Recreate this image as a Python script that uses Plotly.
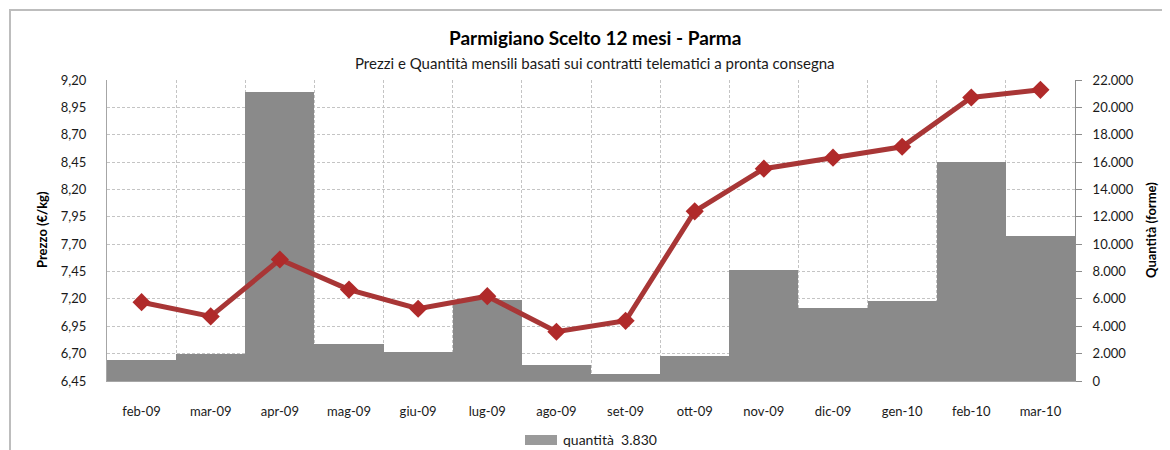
import plotly.graph_objects as go

months = ["feb-09", "mar-09", "apr-09", "mag-09", "giu-09", "lug-09", "ago-09",
          "set-09", "ott-09", "nov-09", "dic-09", "gen-10", "feb-10", "mar-10"]
quantita = [1500, 2000, 21100, 2700, 2150, 5900, 1150, 500, 1850, 8100, 5300, 5850, 16000, 10600]
prezzo = [7.17, 7.04, 7.56, 7.285, 7.11, 7.225, 6.90, 7.00, 8.00, 8.39, 8.49, 8.59, 9.04, 9.11]
legend_label = "quantità  3.830"

left_ticks = [6.45 + 0.25 * i for i in range(12)]
right_ticks = [2000 * i for i in range(12)]

FONT = "Lato"
TXT = "#1a1a1a"
BAR = "#8a8a8a"

# page body adds an 8px offset; positions below are in target screen pixels
OFF = 8
W, H = 1170 - OFF, 450 - OFF
PL, PR, PT, PB = 107 - OFF, 1075 - OFF, 80 - OFF, 381 - OFF
PW, PH = PR - PL, PB - PT


def px(x):
    return (x - OFF - PL) / PW


def py(y):
    return (PB - (y - OFF)) / PH


fig = go.Figure()
fig.add_trace(go.Bar(
    x=months, y=quantita, name=legend_label,
    marker=dict(color=BAR, line=dict(width=0)),
    yaxis="y", showlegend=False,
))
fig.add_trace(go.Scatter(
    x=months, y=prezzo, name="prezzo", mode="lines+markers",
    line=dict(color="#a83636", width=5),
    marker=dict(symbol="diamond", size=14, color="#b02a2a"),
    yaxis="y2", showlegend=False,
))

grid = dict(gridcolor="#c4c4c4", griddash="3px,2px", gridwidth=1)

fig.update_layout(
    width=W, height=H,
    margin=dict(l=PL, r=W - PR, t=PT, b=H - PB, autoexpand=False),
    paper_bgcolor="white", plot_bgcolor="white",
    separators=",.",
    bargap=0,
    showlegend=False,
    font=dict(family=FONT, size=13, color=TXT),
    xaxis=dict(
        type="category", range=[-0.5, len(months) - 0.5], domain=[0, 1],
        tickson="boundaries", showgrid=True, **grid,
        showline=True, linecolor="#a6a6a6", linewidth=1, automargin=False,
        ticks="", ticklabelstandoff=18,
        tickfont=dict(family=FONT, size=13, color=TXT),
    ),
    yaxis=dict(
        side="right", range=[0, 22000], tickvals=right_ticks,
        tickformat=",d", showgrid=False, zeroline=False, automargin=False,
        showline=True, linecolor="#8c8c8c", linewidth=1,
        ticks="outside", ticklen=6, tickcolor="#8c8c8c",
        ticklabelstandoff=8,
        tickfont=dict(family=FONT, size=13, color=TXT),
    ),
    yaxis2=dict(
        overlaying="y", side="left", range=[6.45, 9.20], tickvals=left_ticks,
        tickformat=".2f", showgrid=True, **grid, zeroline=False, automargin=False,
        showline=True, linecolor="#a6a6a6", linewidth=1,
        ticks="", ticklabelstandoff=17,
        tickfont=dict(family=FONT, size=13, color=TXT),
    ),
    annotations=[
        dict(text="<b>Parmigiano Scelto 12 mesi - Parma</b>", xref="paper", yref="paper",
             x=px(595), y=py(38), xanchor="center", yanchor="middle", showarrow=False,
             font=dict(family=FONT, size=19, color="#000")),
        dict(text="Prezzi e Quantità mensili basati sui contratti telematici a pronta consegna",
             xref="paper", yref="paper", x=px(595), y=py(63), xanchor="center",
             yanchor="middle", showarrow=False, font=dict(family=FONT, size=15, color=TXT)),
        dict(text="<b>Prezzo (€/kg)</b>", xref="paper", yref="paper",
             x=px(42), y=py(230), xanchor="center", yanchor="middle", textangle=-90,
             showarrow=False, font=dict(family=FONT, size=13, color="#000")),
        dict(text="<b>Quantità (forme)</b>", xref="paper", yref="paper",
             x=px(1151), y=py(230), xanchor="center", yanchor="middle", textangle=-90,
             showarrow=False, font=dict(family=FONT, size=13, color="#000")),
        dict(text=legend_label, xref="paper", yref="paper",
             x=px(561), y=py(439), xanchor="left", yanchor="middle", showarrow=False,
             font=dict(family=FONT, size=14, color=TXT)),
    ],
    shapes=[
        dict(type="rect", xref="paper", yref="paper",
             x0=px(10), x1=1.3, y0=-0.5, y1=py(10),
             line=dict(color="#bdbdbd", width=2), fillcolor="rgba(0,0,0,0)", layer="below"),
        dict(type="rect", xref="paper", yref="paper",
             x0=px(525), x1=px(557), y0=py(445), y1=py(435),
             line=dict(width=0), fillcolor="#9a9a9a"),
    ],
)

fig.write_html("out.html")
